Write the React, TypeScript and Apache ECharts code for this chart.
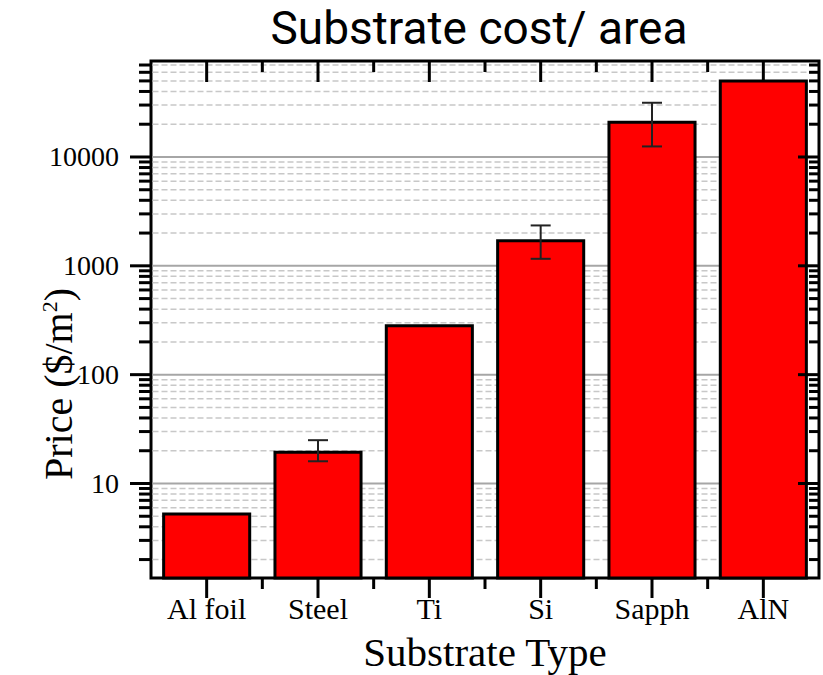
import React, { useEffect, useRef } from "react";
import * as echarts from "echarts";

const categories = ["Al foil", "Steel", "Ti", "Si", "Sapph", "AlN"];
const prices = [5.4, 20, 290, 1750, 21500, 51500];
const errLow = [null, 16, null, 1160, 12500, null];
const errHigh = [null, 25, null, 2350, 31500, null];
const majorTicks = [10, 100, 1000, 10000];
const minorTicks = [
  2, 3, 4, 5, 6, 7, 8, 9,
  20, 30, 40, 50, 60, 70, 80, 90,
  200, 300, 400, 500, 600, 700, 800, 900,
  2000, 3000, 4000, 5000, 6000, 7000, 8000, 9000,
  20000, 30000, 40000, 50000, 60000, 70000,
];
const yMin = 1.354;
const yMax = 76200;

const SERIF = "'Liberation Serif', 'Times New Roman', serif";

export default function App() {
  const ref = useRef<HTMLDivElement>(null);

  useEffect(() => {
    if (!ref.current) return;
    const chart = echarts.init(ref.current, null, { renderer: "svg" });

    const tickData = [
      ...majorTicks.map((v) => [0, v, 1]),
      ...minorTicks.map((v) => [0, v, 0]),
    ];
    const errData = categories
      .map((_, i) => (errLow[i] != null ? [i, errLow[i], errHigh[i]] : null))
      .filter((d) => d !== null);
    const catData = categories.map((_, i) => [i, 10]);

    const option: any = {
      animation: false,
      backgroundColor: "#fff",
      title: {
        text: "Substrate cost/ area",
        left: 479,
        textAlign: "center",
        top: 5,
        padding: 0,
        textStyle: {
          fontFamily: "Roboto, sans-serif",
          fontWeight: "normal",
          fontSize: 46,
          lineHeight: 46,
          color: "#000",
        },
      },
      graphic: [
        {
          type: "text",
          x: 58,
          y: 384,
          rotation: Math.PI / 2,
          style: {
            text: "Price ($/m{sup|2})",
            fontFamily: SERIF,
            fontSize: 40,
            fill: "#000",
            align: "center",
            verticalAlign: "middle",
            rich: {
              sup: {
                fontFamily: SERIF,
                fontSize: 22,
                fill: "#000",
                verticalAlign: "top",
              },
            },
          },
        },
      ],
      grid: {
        left: 151,
        right: 4,
        top: 61,
        bottom: 97,
        outerBoundsMode: "none",
        containLabel: false,
        show: true,
        borderColor: "#000",
        borderWidth: 3,
        backgroundColor: "transparent",
      },
      xAxis: {
        type: "category",
        data: categories,
        axisLine: { show: false },
        axisTick: { show: false },
        splitLine: { show: false },
        axisLabel: {
          fontFamily: SERIF,
          fontSize: 30,
          color: "#000",
          margin: 15,
        },
        name: "Substrate Type",
        nameLocation: "middle",
        nameGap: 53,
        nameMoveOverlap: false,
        nameTextStyle: { fontFamily: SERIF, fontSize: 41, color: "#000" },
      },
      yAxis: {
        type: "log",
        min: yMin,
        max: yMax,
        axisLine: { show: false },
        axisTick: { show: false },
        splitLine: { show: false },
        minorTick: { show: false },
        axisLabel: {
          fontFamily: SERIF,
          fontSize: 28,
          color: "#000",
          margin: 32,
          showMinLabel: false,
          showMaxLabel: false,
          formatter: (v: number) => {
            const r = Math.round(v);
            return majorTicks.includes(r) ? String(r) : "";
          },
        },
      },
      series: [
        {
          type: "custom",
          name: "gridlines",
          z: 1,
          silent: true,
          data: tickData,
          encode: { x: 0, y: 1 },
          renderItem: (params: any, api: any) => {
            const cs = params.coordSys;
            const y = api.coord([0, api.value(1)])[1];
            const major = api.value(2) === 1;
            return {
              type: "line",
              shape: { x1: cs.x + 1.5, y1: y, x2: cs.x + cs.width - 1.5, y2: y },
              style: major
                ? { stroke: "#a6a6a6", lineWidth: 2 }
                : { stroke: "#c8c8c8", lineWidth: 1.5, lineDash: [6, 3] },
            };
          },
        },
        {
          type: "bar",
          name: "Price",
          z: 2,
          data: prices,
          barCategoryGap: "20%",
          itemStyle: { color: "#ff0000", borderColor: "#000", borderWidth: 3 },
        },
        {
          type: "custom",
          name: "error",
          z: 3,
          silent: true,
          data: errData,
          encode: { x: 0, y: [1, 2] },
          renderItem: (params: any, api: any) => {
            const lo = api.coord([api.value(0), api.value(1)]);
            const hi = api.coord([api.value(0), api.value(2)]);
            const x = lo[0];
            const st = { stroke: "#222", lineWidth: 2 };
            return {
              type: "group",
              children: [
                { type: "line", shape: { x1: x, y1: lo[1], x2: x, y2: hi[1] }, style: st },
                { type: "line", shape: { x1: x - 10, y1: lo[1], x2: x + 10, y2: lo[1] }, style: st },
                { type: "line", shape: { x1: x - 10, y1: hi[1], x2: x + 10, y2: hi[1] }, style: st },
              ],
            };
          },
        },
        {
          type: "custom",
          name: "yticks",
          z: 4,
          silent: true,
          data: tickData,
          encode: { x: 0, y: 1 },
          renderItem: (params: any, api: any) => {
            const cs = params.coordSys;
            const y = api.coord([0, api.value(1)])[1];
            const major = api.value(2) === 1;
            const L = cs.x;
            const R = cs.x + cs.width;
            const st = { stroke: "#000", lineWidth: 3 };
            return {
              type: "group",
              children: [
                { type: "line", shape: { x1: L - (major ? 21 : 12), y1: y, x2: L, y2: y }, style: st },
                { type: "line", shape: { x1: R - (major ? 21 : 10), y1: y, x2: R, y2: y }, style: st },
              ],
            };
          },
        },
        {
          type: "custom",
          name: "xticks",
          z: 4,
          silent: true,
          data: catData,
          encode: { x: 0, y: 1 },
          renderItem: (params: any, api: any) => {
            const cs = params.coordSys;
            const i = api.value(0);
            const band = cs.width / categories.length;
            const xc = api.coord([i, 10])[0];
            const xb = xc - band / 2;
            const T = cs.y;
            const B = cs.y + cs.height;
            const st = { stroke: "#000", lineWidth: 3 };
            const children: any[] = [
              { type: "line", shape: { x1: xc, y1: B, x2: xc, y2: B + 20 }, style: st },
              { type: "line", shape: { x1: xc, y1: T, x2: xc, y2: T + 21 }, style: st },
            ];
            if (i > 0) {
              children.push({ type: "line", shape: { x1: xb, y1: B, x2: xb, y2: B + 11 }, style: st });
              children.push({ type: "line", shape: { x1: xb, y1: T, x2: xb, y2: T + 11 }, style: st });
            }
            return { type: "group", children };
          },
        },
      ],
    };

    chart.setOption(option);
    return () => chart.dispose();
  }, []);

  return (
    <div
      ref={ref}
      style={{ position: "absolute", left: 0, top: 0, width: 823, height: 675 }}
    />
  );
}
